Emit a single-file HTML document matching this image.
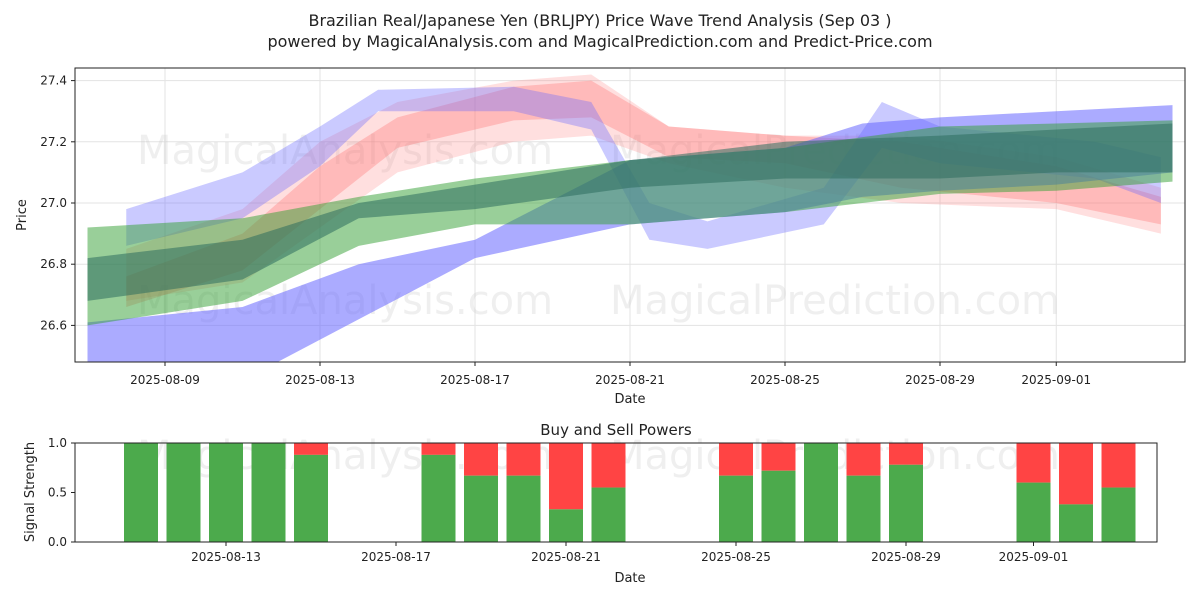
<!DOCTYPE html>
<html><head><meta charset="utf-8"><style>
body{margin:0;background:#fff;font-family:"Liberation Sans","DejaVu Sans",sans-serif}
svg text{font-family:"DejaVu Sans","Liberation Sans",sans-serif;fill:#222}
</style></head><body>
<svg id="c" width="1200" height="600" xmlns="http://www.w3.org/2000/svg">
<text x="600" y="26" font-size="16" text-anchor="middle">Brazilian Real/Japanese Yen (BRLJPY) Price Wave Trend Analysis (Sep 03 )</text>
<text x="600" y="47" font-size="16" text-anchor="middle">powered by MagicalAnalysis.com and MagicalPrediction.com and Predict-Price.com</text>
<g id="topPanel"></g>
<g id="botPanel"></g>
</svg>
<script>
// ---- data ----
const priceTicks=[26.6,26.8,27.0,27.2,27.4];
const dateTickLabels=["2025-08-09","2025-08-13","2025-08-17","2025-08-21","2025-08-25","2025-08-29","2025-09-01"];
const dateTickDays=[2,6,10,14,18,22,25]; // days after 2025-08-07
const blueWideDays=[0,4,7,10,14,18,20,22,25,28];
const blueWideLo=[26.42,26.42,26.62,26.82,26.93,26.97,27.02,27.04,27.06,27.10];
const blueWideHi=[26.61,26.66,26.80,26.88,27.14,27.18,27.26,27.28,27.30,27.32];
const greenDays=[0,4,7,10,14,18,22,25,28];
const greenLo=[26.60,26.68,26.86,26.93,26.93,26.97,27.03,27.04,27.07];
const greenHi=[26.92,26.95,27.02,27.08,27.14,27.18,27.25,27.26,27.27];
const green2Lo=[26.68,26.75,26.95,26.98,27.05,27.08,27.08,27.10,27.10];
const green2Hi=[26.82,26.88,27.00,27.06,27.14,27.20,27.22,27.24,27.26];
const blueHumpDays=[1,4,6,7.5,11,13,14.5,16,19,20.5,22,26,27.7];
const blueHumpLo=[26.86,26.95,27.12,27.30,27.30,27.24,26.88,26.85,26.93,27.18,27.13,27.08,27.00];
const blueHumpHi=[26.98,27.10,27.25,27.37,27.38,27.33,27.00,26.94,27.05,27.33,27.25,27.20,27.15];
const redDays=[1,4,6,8,11,13,15,18,21,25,27.7];
const redLo=[26.66,26.78,26.98,27.18,27.27,27.28,27.15,27.13,27.05,27.00,26.93];
const redHi=[26.76,26.90,27.12,27.28,27.38,27.40,27.25,27.22,27.20,27.12,27.02];
const red2Lo=[26.68,26.74,26.92,27.10,27.20,27.22,27.13,27.05,27.00,26.98,26.90];
const red2Hi=[26.85,26.98,27.20,27.33,27.40,27.42,27.25,27.22,27.22,27.15,27.05];
const sigDays=[4,5,6,7,8,11,12,13,14,15,18,19,20,21,22,25,26,27];
const buyVals=[1,1,1,1,0.88,0.88,0.67,0.67,0.33,0.55,0.67,0.72,1,0.67,0.78,0.6,0.38,0.55];
const sigTickLabels=["2025-08-13","2025-08-17","2025-08-21","2025-08-25","2025-08-29","2025-09-01"];
const sigTickDays=[6,10,14,18,22,25];
const sigYTicks=[0,0.5,1.0];

const NS="http://www.w3.org/2000/svg";
function mk(p,t,a){const e=document.createElementNS(NS,t);for(const k in a)e.setAttribute(k,a[k]);p.appendChild(e);return e;}
const X=d=>87.5+d*38.75;
const Y=v=>203-(v-27.0)*306;
const X2=d=>-29+d*42.5;
const Y2=v=>542-v*99;
const topG=document.getElementById('topPanel'),botG=document.getElementById('botPanel');
priceTicks.forEach(v=>{const l=mk(topG,'line',{x1:75,x2:1185,y1:Y(v),y2:Y(v),stroke:'#e3e3e3'});


mk(topG,'line',{x1:71,x2:75,y1:Y(v),y2:Y(v),stroke:'#222'});
const tx=mk(topG,'text',{x:67,y:Y(v)+4,'font-size':12,'text-anchor':'end'});tx.textContent=v.toFixed(1);

});
dateTickDays.forEach((d,i)=>{mk(topG,'line',{x1:X(d),x2:X(d),y1:68,y2:362,stroke:'#e3e3e3'});
mk(topG,'line',{x1:X(d),x2:X(d),y1:362,y2:366,stroke:'#222'});
const tx=mk(topG,'text',{x:X(d),y:384,'font-size':12,'text-anchor':'middle'});tx.textContent=dateTickLabels[i];

});
[[345,150,'MagicalAnalysis.com'],[835,150,'MagicalPrediction.com'],[345,300,'MagicalAnalysis.com'],[835,300,'MagicalPrediction.com'],[345,455,'MagicalAnalysis.com'],[835,455,'MagicalPrediction.com']].forEach(w=>{
const tx=mk(topG,'text',{x:w[0],y:w[1]+14,'font-size':40,'text-anchor':'middle',style:'fill:#ccc;opacity:0.3'});tx.textContent=w[2];

});
const clip=mk(topG,'clipPath',{id:'cp'});mk(clip,'rect',{x:75,y:68,width:1110,height:294});
const bands=mk(topG,'g',{'clip-path':'url(#cp)'});
function band(days,lo,hi,color,op,name){
 let pts=days.map((d,i)=>X(d)+','+Y(hi[i]));
 pts=pts.concat(days.map((d,i)=>X(d)+','+Y(lo[i])).reverse());
 const p=mk(bands,'polygon',{points:pts.join(' '),fill:color,'fill-opacity':op});
 
 
}
band(redDays,red2Lo,red2Hi,'#ff8080',0.25,'red-band-wide');
band(redDays,redLo,redHi,'#ff6666',0.3,'red-band');
band(blueHumpDays,blueHumpLo,blueHumpHi,'#6666ff',0.35,'blue-band-upper');
band(blueWideDays,blueWideLo,blueWideHi,'#6666ff',0.55,'blue-band-wide');
band(greenDays,greenLo,greenHi,'#33a033',0.5,'green-band');
band(greenDays,green2Lo,green2Hi,'#2e6e5e',0.55,'teal-band');
mk(topG,'rect',{x:75,y:68,width:1110,height:294,fill:'none',stroke:'#222'});
let lbl=mk(topG,'text',{x:630,y:403,'font-size':13,'text-anchor':'middle'});lbl.textContent='Date';
lbl=mk(topG,'text',{x:26,y:215,'font-size':13,'text-anchor':'middle',transform:'rotate(-90 26 215)'});lbl.textContent='Price';
lbl=mk(botG,'text',{x:616,y:435,'font-size':15,'text-anchor':'middle'});lbl.textContent='Buy and Sell Powers';
sigYTicks.forEach(v=>{mk(botG,'line',{x1:71,x2:75,y1:Y2(v),y2:Y2(v),stroke:'#222'});
const tx=mk(botG,'text',{x:67,y:Y2(v)+4,'font-size':12,'text-anchor':'end'});tx.textContent=v.toFixed(1);

});
sigTickDays.forEach((d,i)=>{mk(botG,'line',{x1:X2(d),x2:X2(d),y1:542,y2:546,stroke:'#222'});
const tx=mk(botG,'text',{x:X2(d),y:561,'font-size':12,'text-anchor':'middle'});tx.textContent=sigTickLabels[i];

});
sigDays.forEach((d,i)=>{const b=buyVals[i];
 const r=mk(botG,'rect',{x:X2(d)-17,y:Y2(1),width:34,height:Y2(b)-Y2(1),fill:'#ff4444'});
 
 
 const g=mk(botG,'rect',{x:X2(d)-17,y:Y2(b),width:34,height:Y2(0)-Y2(b),fill:'#4caa4c'});
 
 });
mk(botG,'rect',{x:75,y:443,width:1082,height:99,fill:'none',stroke:'#222'});
lbl=mk(botG,'text',{x:630,y:582,'font-size':13,'text-anchor':'middle'});lbl.textContent='Date';
lbl=mk(botG,'text',{x:34,y:492,'font-size':13,'text-anchor':'middle',transform:'rotate(-90 34 492)'});lbl.textContent='Signal Strength';
</script>
</body></html>
